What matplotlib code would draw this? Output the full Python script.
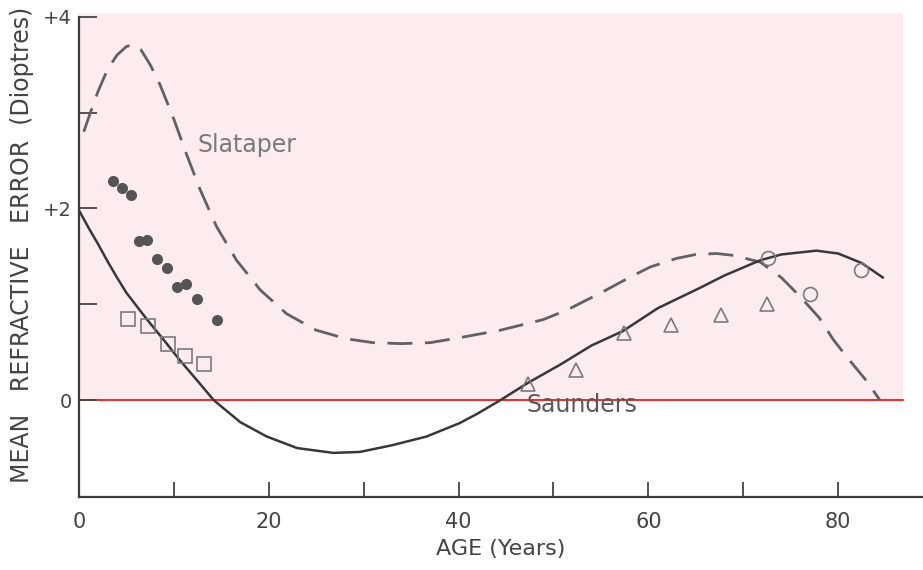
import matplotlib
matplotlib.use("Agg")
import matplotlib.pyplot as plt
from matplotlib.patches import Rectangle

# ---- data ----
slataper_age = [0.5, 1.2, 2, 3, 4, 5, 5.7, 6.5, 7.5, 8.5, 10, 11.35, 12.75, 14.5,
                16.6, 19.1, 21.9, 25, 28.2, 31, 34, 37, 40, 44.4, 48.9, 51.4, 55,
                58, 60.2, 63, 65, 67.2, 69, 71.8, 74, 76, 78, 79.5, 81, 83, 84.4]
slataper_val = [2.8, 3.0, 3.22, 3.45, 3.6, 3.69, 3.71, 3.66, 3.5, 3.3, 2.93, 2.56,
                2.2, 1.81, 1.46, 1.15, 0.9, 0.73, 0.64, 0.6, 0.59, 0.6, 0.65, 0.73,
                0.84, 0.94, 1.12, 1.28, 1.39, 1.48, 1.52, 1.53, 1.51, 1.44, 1.28,
                1.08, 0.86, 0.63, 0.44, 0.2, 0.0]

saunders_age = [0, 1, 2, 3, 4, 5, 6.4, 7.1, 9, 10.6, 12.5, 14.2, 17, 19.8, 23,
                26.8, 29.6, 33, 36.6, 40.1, 42, 44.4, 47.3, 50.7, 54, 57.3, 61,
                65.4, 68, 71.8, 74, 77.7, 80, 82.5, 84.7]
saunders_val = [1.98, 1.8, 1.63, 1.45, 1.28, 1.12, 0.94, 0.85, 0.62, 0.42, 0.2,
                0.0, -0.23, -0.38, -0.5, -0.55, -0.54, -0.47, -0.38, -0.24, -0.14,
                0.0, 0.18, 0.37, 0.57, 0.72, 0.96, 1.17, 1.3, 1.46, 1.52, 1.56,
                1.53, 1.43, 1.28]

dots_age = [3.6, 4.5, 5.45, 6.35, 7.13, 8.19, 9.3, 10.3, 11.27, 12.4, 14.57]
dots_val = [2.29, 2.21, 2.14, 1.66, 1.67, 1.47, 1.38, 1.18, 1.21, 1.06, 0.84]

squares_age = [5.2, 7.3, 9.4, 11.17, 13.17]
squares_val = [0.85, 0.77, 0.59, 0.46, 0.38]

triangles_age = [47.3, 52.4, 57.4, 62.35, 67.7, 72.5]
triangles_val = [0.17, 0.31, 0.70, 0.78, 0.89, 1.00]

rings_age = [72.6, 77.0, 82.4]
rings_val = [1.48, 1.11, 1.36]

ytick_vals = [0, 1, 2, 3, 4]
ytick_labels = ["0", "", "+2", "", "+4"]
xtick_vals = [0, 10, 20, 30, 40, 50, 60, 70, 80]
xtick_labels = ["0", "", "20", "", "40", "", "60", "", "80"]

shade_right = 86.8
shade_top = 4.04

# ---- figure ----
fig = plt.figure(figsize=(9.23, 5.70), dpi=100)
ax = fig.add_axes([79 / 923, 0.1281, 1 - 79 / 923, 0.8593])
ax.set_xlim(0, 88.94)
ax.set_ylim(-1.01, 4.1)

ax.add_patch(Rectangle((0, 0), shade_right, shade_top, facecolor="#fdeced",
                       edgecolor="none", zorder=0))
ax.plot([0, shade_right], [0, 0], color="#ff0000", lw=1.2, zorder=1)

ax.plot(slataper_age, slataper_val, color="#616161", lw=2.0,
        dashes=(9, 4.5), zorder=3, solid_capstyle="butt")
ax.plot(saunders_age, saunders_val, color="#383838", lw=1.8, zorder=3)

ax.plot(dots_age, dots_val, "o", ms=8, color="#555555", mec="none", zorder=4)
ax.plot(squares_age, squares_val, "s", ms=10, mfc="none", mec="#7a7a7a",
        mew=1.2, zorder=4)
ax.plot(triangles_age, triangles_val, "^", ms=10, mfc="none", mec="#7a7a7a",
        mew=1.2, zorder=4)
ax.plot(rings_age, rings_val, "o", ms=10, mfc="none", mec="#7a7a7a",
        mew=1.2, zorder=4)

ax.text(12.5, 2.66, "Slataper", fontsize=17, color="#7a7a7a",
        ha="left", va="center")
ax.text(47.2, -0.05, "Saunders", fontsize=17, color="#5a5a5a",
        ha="left", va="center")

for s in ["top", "right"]:
    ax.spines[s].set_visible(False)
ax.spines["left"].set_bounds(-1.01, 4.0)
for s in ["left", "bottom"]:
    ax.spines[s].set_color("#3c3c3c")
    ax.spines[s].set_linewidth(1.6)

ax.set_yticks(ytick_vals)
ax.set_yticklabels(ytick_labels)
ax.set_xticks(xtick_vals)
ax.set_xticklabels(xtick_labels)
ax.tick_params(axis="y", direction="in", length=13, width=1.3, color="#444444",
               labelsize=14, labelcolor="#444444", pad=5)
ax.tick_params(axis="x", direction="in", length=11, width=1.3, color="#444444",
               labelsize=15, labelcolor="#444444", pad=11)

ax.set_xlabel("AGE (Years)", fontsize=16, color="#444444", labelpad=5)
fig.text(22 / 923, 1 - 245 / 570, "MEAN   REFRACTIVE   ERROR  (Dioptres)",
         rotation=90, fontsize=17, color="#444444", ha="center", va="center")

fig.savefig("out.png", dpi=100)
